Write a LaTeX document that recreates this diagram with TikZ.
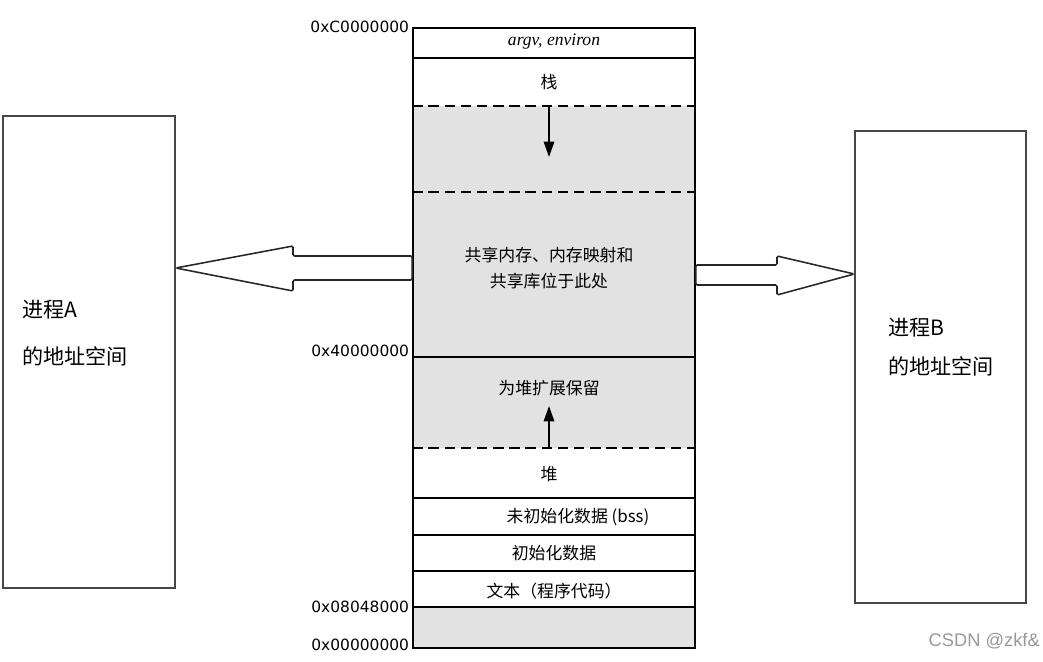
\documentclass[tikz,border=0pt]{standalone}
\usepackage{fontspec}
\newfontfamily\cjk{Noto Sans CJK SC}
\newfontfamily\addrfont{DejaVu Sans}
\newfontfamily\markfont{Liberation Sans}
\newfontfamily\itfont{Liberation Serif}
\usetikzlibrary{arrows.meta, positioning, calc}
\definecolor{memgray}{RGB}{226,226,226}
\definecolor{boxline}{RGB}{70,70,70}
\tikzset{
  region/.style={font=\cjk\fontsize{12}{14}\selectfont, inner sep=1pt},
  addr/.style={anchor=east, font=\addrfont\fontsize{11}{13}\selectfont,
               inner sep=2pt},
  procbox/.style={draw=boxline, line width=1pt, minimum width=4.3cm,
                  minimum height=11.8cm, inner sep=0pt},
  proctext/.style={anchor=west, font=\cjk\fontsize{15}{17}\selectfont,
                   inner sep=0pt},
  sepline/.style={line width=1.1pt},
  dashsep/.style={line width=1.1pt, dash pattern=on 7.5pt off 4pt},
  growarr/.style={-{Triangle[length=11pt,width=7.5pt]}, line width=1.1pt},
  bigarr/.style={draw=black!85, line width=1.1pt, fill=white,
                 rounded corners=1pt},
}
\begin{document}
\begin{tikzpicture}[x=0.025cm, y=-0.025cm]
  \useasboundingbox (0,0) rectangle (1043,662);

  % shaded (unused) parts of the address space
  \fill[memgray] (413,106) rectangle (695,448);
  \fill[memgray] (413,607) rectangle (695,648);

  % memory column
  \node[draw, line width=1.1pt, minimum width=7.05cm, minimum height=15.5cm,
        inner sep=0pt] (mem) at (554,338) {};
  \foreach \y in {58, 357, 498, 535, 571, 607}
    \draw[sepline] (mem.west |- 0,\y) -- (mem.east |- 0,\y);
  \foreach \y in {106, 192, 448}
    \draw[dashsep] (mem.west |- 0,\y) -- (mem.east |- 0,\y);

  \node[region, font=\itfont\itshape\fontsize{12.5}{14}\selectfont]
    (argv) at (554,42) {argv, environ};
  \node[region] (stack) at (549,82) {栈};
  \node[region, align=center] (shared) at (549,268)
    {共享内存、内存映射和\\[5pt]共享库位于此处};
  \node[region] (reserve) at (549,388) {为堆扩展保留};
  \node[region] (heap) at (549,474) {堆};
  \node[region] (bss) at (578,517) {未初始化数据 (bss)};
  \node[region] (data) at (554,553) {初始化数据};
  \node[region] (text) at (554,591) {文本（程序代码）};

  % growth arrows
  \coordinate (stacktop) at (549,106);
  \coordinate (stackend) at (549,157);
  \coordinate (heaptop) at (549,448);
  \coordinate (heapend) at (549,406);
  \draw[growarr] (stacktop) -- (stackend);
  \draw[growarr] (heaptop) -- (heapend);

  % addresses
  \node[addr] (aC) at (mem.north west) {0xC0000000};
  \node[addr] (a4) at (mem.west |- 0,351) {0x40000000};
  \node[addr] (a08) at (mem.west |- 0,607) {0x08048000};
  \node[addr] (a00) at (mem.west |- 0,645) {0x00000000};

  % process address spaces
  \node[procbox] (procA) at (89,352) {};
  \node[proctext] (procAname) at (22,310) {进程A};
  \node[proctext] (procAaddr) at (22,356) {的地址空间};
  \node[procbox, minimum width=4.275cm] (procB) at (940.5,367) {};
  \node[proctext] (procBname) at (888,328) {进程B};
  \node[proctext] (procBaddr) at (888,366) {的地址空间};

  % mapping arrows
  \draw[bigarr] (procA.east |- 0,268) -- (293,246) -- (293,256)
    -- (mem.west |- 0,256) -- (mem.west |- 0,280) -- (293,280)
    -- (293,291) -- cycle;
  \draw[bigarr] (mem.east |- 0,265) -- (777,265) -- (777,256)
    -- (procB.west |- 0,274) -- (777,295) -- (777,285)
    -- (mem.east |- 0,285) -- cycle;

  \node[font=\markfont\fontsize{13}{15}\selectfont, text=black!40,
        anchor=east, inner sep=0pt] (mark) at (1040,641) {CSDN @zkf\&};
\end{tikzpicture}
\end{document}
